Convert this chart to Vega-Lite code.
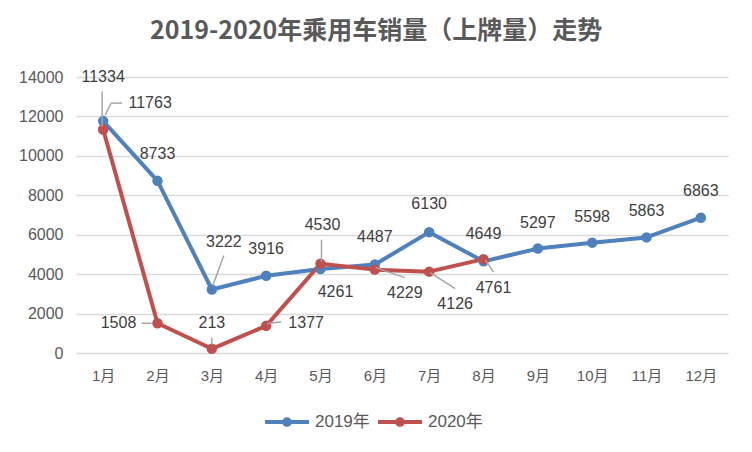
{
  "$schema": "https://vega.github.io/schema/vega-lite/v6.json",
  "width": 652,
  "height": 276,
  "autosize": {"type": "none"},
  "padding": {"left": 76, "top": 77, "right": 24, "bottom": 99},
  "background": "#ffffff",
  "title": {
    "text": "2019-2020年乘用车销量（上牌量）走势",
    "font": "Noto Sans CJK SC",
    "fontSize": 25,
    "fontWeight": "bold",
    "color": "#595959",
    "anchor": "middle",
    "dx": -26,
    "offset": 25
  },
  "data": {
    "values": [
      {"month": "1月", "series": "2019年", "value": 11763},
      {"month": "2月", "series": "2019年", "value": 8733},
      {"month": "3月", "series": "2019年", "value": 3222},
      {"month": "4月", "series": "2019年", "value": 3916},
      {"month": "5月", "series": "2019年", "value": 4261},
      {"month": "6月", "series": "2019年", "value": 4487},
      {"month": "7月", "series": "2019年", "value": 6130},
      {"month": "8月", "series": "2019年", "value": 4649},
      {"month": "9月", "series": "2019年", "value": 5297},
      {"month": "10月", "series": "2019年", "value": 5598},
      {"month": "11月", "series": "2019年", "value": 5863},
      {"month": "12月", "series": "2019年", "value": 6863},
      {"month": "1月", "series": "2020年", "value": 11334},
      {"month": "2月", "series": "2020年", "value": 1508},
      {"month": "3月", "series": "2020年", "value": 213},
      {"month": "4月", "series": "2020年", "value": 1377},
      {"month": "5月", "series": "2020年", "value": 4530},
      {"month": "6月", "series": "2020年", "value": 4229},
      {"month": "7月", "series": "2020年", "value": 4126},
      {"month": "8月", "series": "2020年", "value": 4761}
    ]
  },
  "transform": [
    {"calculate": "indexof(['1月','2月','3月','4月','5月','6月','7月','8月','9月','10月','11月','12月'], datum.month)", "as": "i"}
  ],
  "encoding": {
    "x": {
      "field": "month",
      "type": "nominal",
      "sort": null,
      "scale": {"type": "point", "padding": 0.5},
      "axis": {
        "title": null,
        "labelAngle": 0,
        "labelFont": "Liberation Sans, Noto Sans CJK SC",
        "labelFontSize": 15,
        "labelColor": "#595959",
        "labelPadding": 15,
        "ticks": false,
        "domain": false,
        "grid": false
      }
    },
    "y": {
      "field": "value",
      "type": "quantitative",
      "scale": {"domain": [0, 14000], "nice": false},
      "axis": {
        "title": null,
        "values": [0, 2000, 4000, 6000, 8000, 10000, 12000, 14000],
        "format": "d",
        "labelFont": "Liberation Sans",
        "labelFontSize": 16,
        "labelColor": "#595959",
        "labelPadding": 13,
        "ticks": false,
        "domain": false,
        "grid": true,
        "gridColor": "#D9D9D9",
        "gridWidth": 1.5
      }
    },
    "color": {
      "field": "series",
      "type": "nominal",
      "scale": {"domain": ["2019年", "2020年"], "range": ["#4F81BD", "#C0504D"]},
      "legend": {
        "title": null,
        "orient": "none",
        "direction": "horizontal",
        "legendX": 196,
        "legendY": 330,
        "padding": 0,
        "labelFont": "Liberation Sans, Noto Sans CJK SC",
        "labelFontSize": 17,
        "labelColor": "#595959",
        "symbolType": "M-1.5,-0.13H-0.25V0.13H-1.5Z M0.25,-0.13H1.5V0.13H0.25Z M-0.33,0A0.33,0.33 0 1,1 0.33,0A0.33,0.33 0 1,1 -0.33,0Z",
        "symbolSize": 860,
        "symbolStrokeWidth": 0,
        "labelOffset": 13,
        "columnPadding": 8,
        "encode": {
          "symbols": {
            "update": {
              "fill": {"scale": "color", "field": "value"},
              "strokeWidth": {"value": 0},
              "opacity": {"value": 1}
            }
          }
        }
      }
    }
  },
  "layer": [
    {
      "mark": {"type": "line", "strokeWidth": 4, "strokeJoin": "round", "strokeCap": "round"}
    },
    {
      "mark": {"type": "circle", "size": 110, "opacity": 1}
    },
    {
      "transform": [
        {"filter": "datum.series=='2020年' || datum.month=='1月' || datum.month=='3月'"}
      ],
      "mark": {
        "type": "rule",
        "color": "#A6A6A6",
        "strokeWidth": 1.5,
        "xOffset": {"expr": "datum.series=='2019年' ? [2,0,1][datum.i] : [-1,-16,0,1,1,1,1,2][datum.i]"},
        "yOffset": {"expr": "datum.series=='2019年' ? [-6,0,-4][datum.i] : [-3,0,-11,-2,-24,-2,1,1][datum.i]"},
        "x2Offset": {"expr": "datum.series=='2019年' ? [8,0,12][datum.i] : [-1,-6,0,15,1,30,26,10][datum.i]"},
        "y2Offset": {"expr": "datum.series=='2019年' ? [-18,0,-34][datum.i] : [-38,0,-4,-4,-2,8,17,13][datum.i]"}
      },
      "encoding": {
        "x2": {"field": "month"},
        "y2": {"field": "value"},
        "color": {"value": "#A6A6A6"}
      }
    },
    {
      "transform": [
        {"filter": "datum.series=='2019年' && datum.month=='1月'"}
      ],
      "mark": {
        "type": "rule",
        "color": "#A6A6A6",
        "strokeWidth": 1.5,
        "xOffset": 8,
        "yOffset": -18,
        "x2Offset": 19,
        "y2Offset": -18
      },
      "encoding": {
        "x2": {"field": "month"},
        "y2": {"field": "value"},
        "color": {"value": "#A6A6A6"}
      }
    },
    {
      "mark": {
        "type": "text",
        "font": "Liberation Sans",
        "fontSize": 16,
        "color": "#404040",
        "baseline": "middle",
        "align": "center",
        "dx": {"expr": "datum.series=='2019年' ? [47,0,12,0,15,0,0,0,0,0,0,0][datum.i] : [0,-39,0,40,2,30,26,10][datum.i]"},
        "dy": {"expr": "datum.series=='2019年' ? [-18,-27,-47,-27,23,-28,-28,-27,-26,-26,-26,-27][datum.i] : [-53,0,-26,-3,-39,23,32,29][datum.i]"}
      },
      "encoding": {
        "text": {"field": "value", "type": "quantitative", "format": "d"},
        "color": {"value": "#404040"}
      }
    }
  ],
  "config": {
    "view": {"stroke": null}
  }
}
